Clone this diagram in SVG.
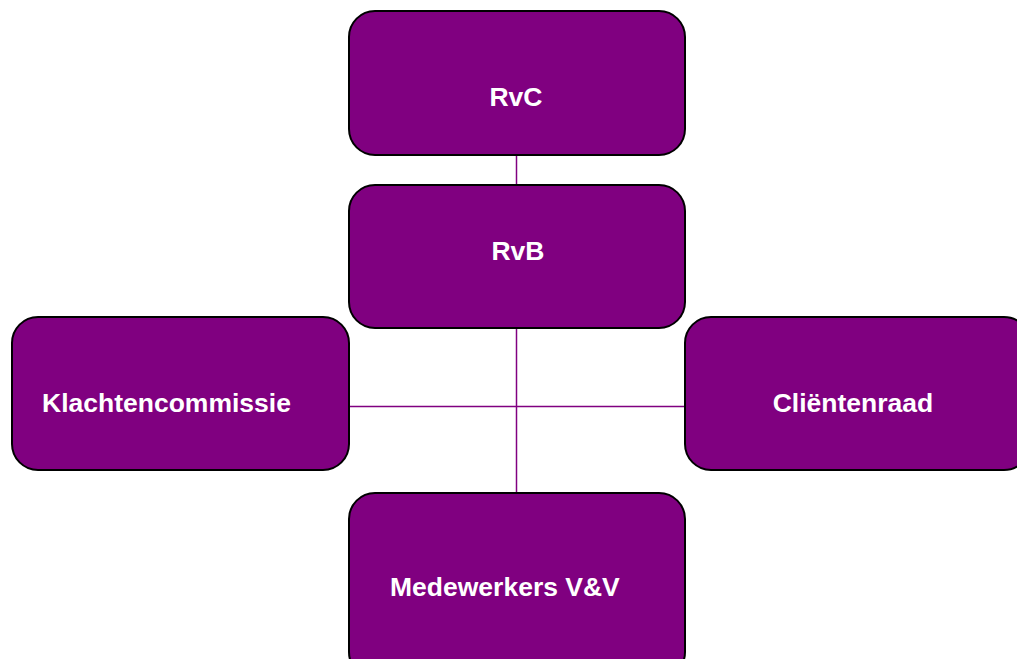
<svg xmlns="http://www.w3.org/2000/svg" width="1017" height="659" viewBox="0 0 1017 659">
<style>
.box{fill:#800080;stroke:#000;stroke-width:2}
.lbl{fill:#fff;font-family:"Liberation Sans",Arial,sans-serif;font-weight:bold;font-size:26.5px}
.con{stroke:#800080;stroke-width:1.5;fill:none}
</style>
<rect width="1017" height="659" fill="#fff"/>
<g id="connectors">
<line class="con" x1="516.5" y1="155" x2="516.5" y2="185"/>
<line class="con" x1="516.5" y1="328" x2="516.5" y2="493"/>
<line class="con" x1="349" y1="406.5" x2="685" y2="406.5"/>
</g>
<g id="rvc">
<rect class="box" x="349" y="11" width="336" height="144" rx="26"/>
<text class="lbl" x="516" y="106" text-anchor="middle">RvC</text>
</g>
<g id="rvb">
<rect class="box" x="349" y="185" width="336" height="143" rx="26"/>
<text class="lbl" x="518" y="260" text-anchor="middle">RvB</text>
</g>
<g id="klachtencommissie">
<rect class="box" x="12" y="317" width="337" height="153" rx="26"/>
<text class="lbl" x="42" y="412">Klachtencommissie</text>
</g>
<g id="clientenraad">
<rect class="box" x="685" y="317" width="345" height="153" rx="26"/>
<text class="lbl" x="853" y="412" text-anchor="middle">Cliëntenraad</text>
</g>
<g id="medewerkers">
<rect class="box" x="349" y="493" width="336" height="185" rx="26"/>
<text class="lbl" x="390" y="596">Medewerkers V&amp;V</text>
</g>
</svg>
